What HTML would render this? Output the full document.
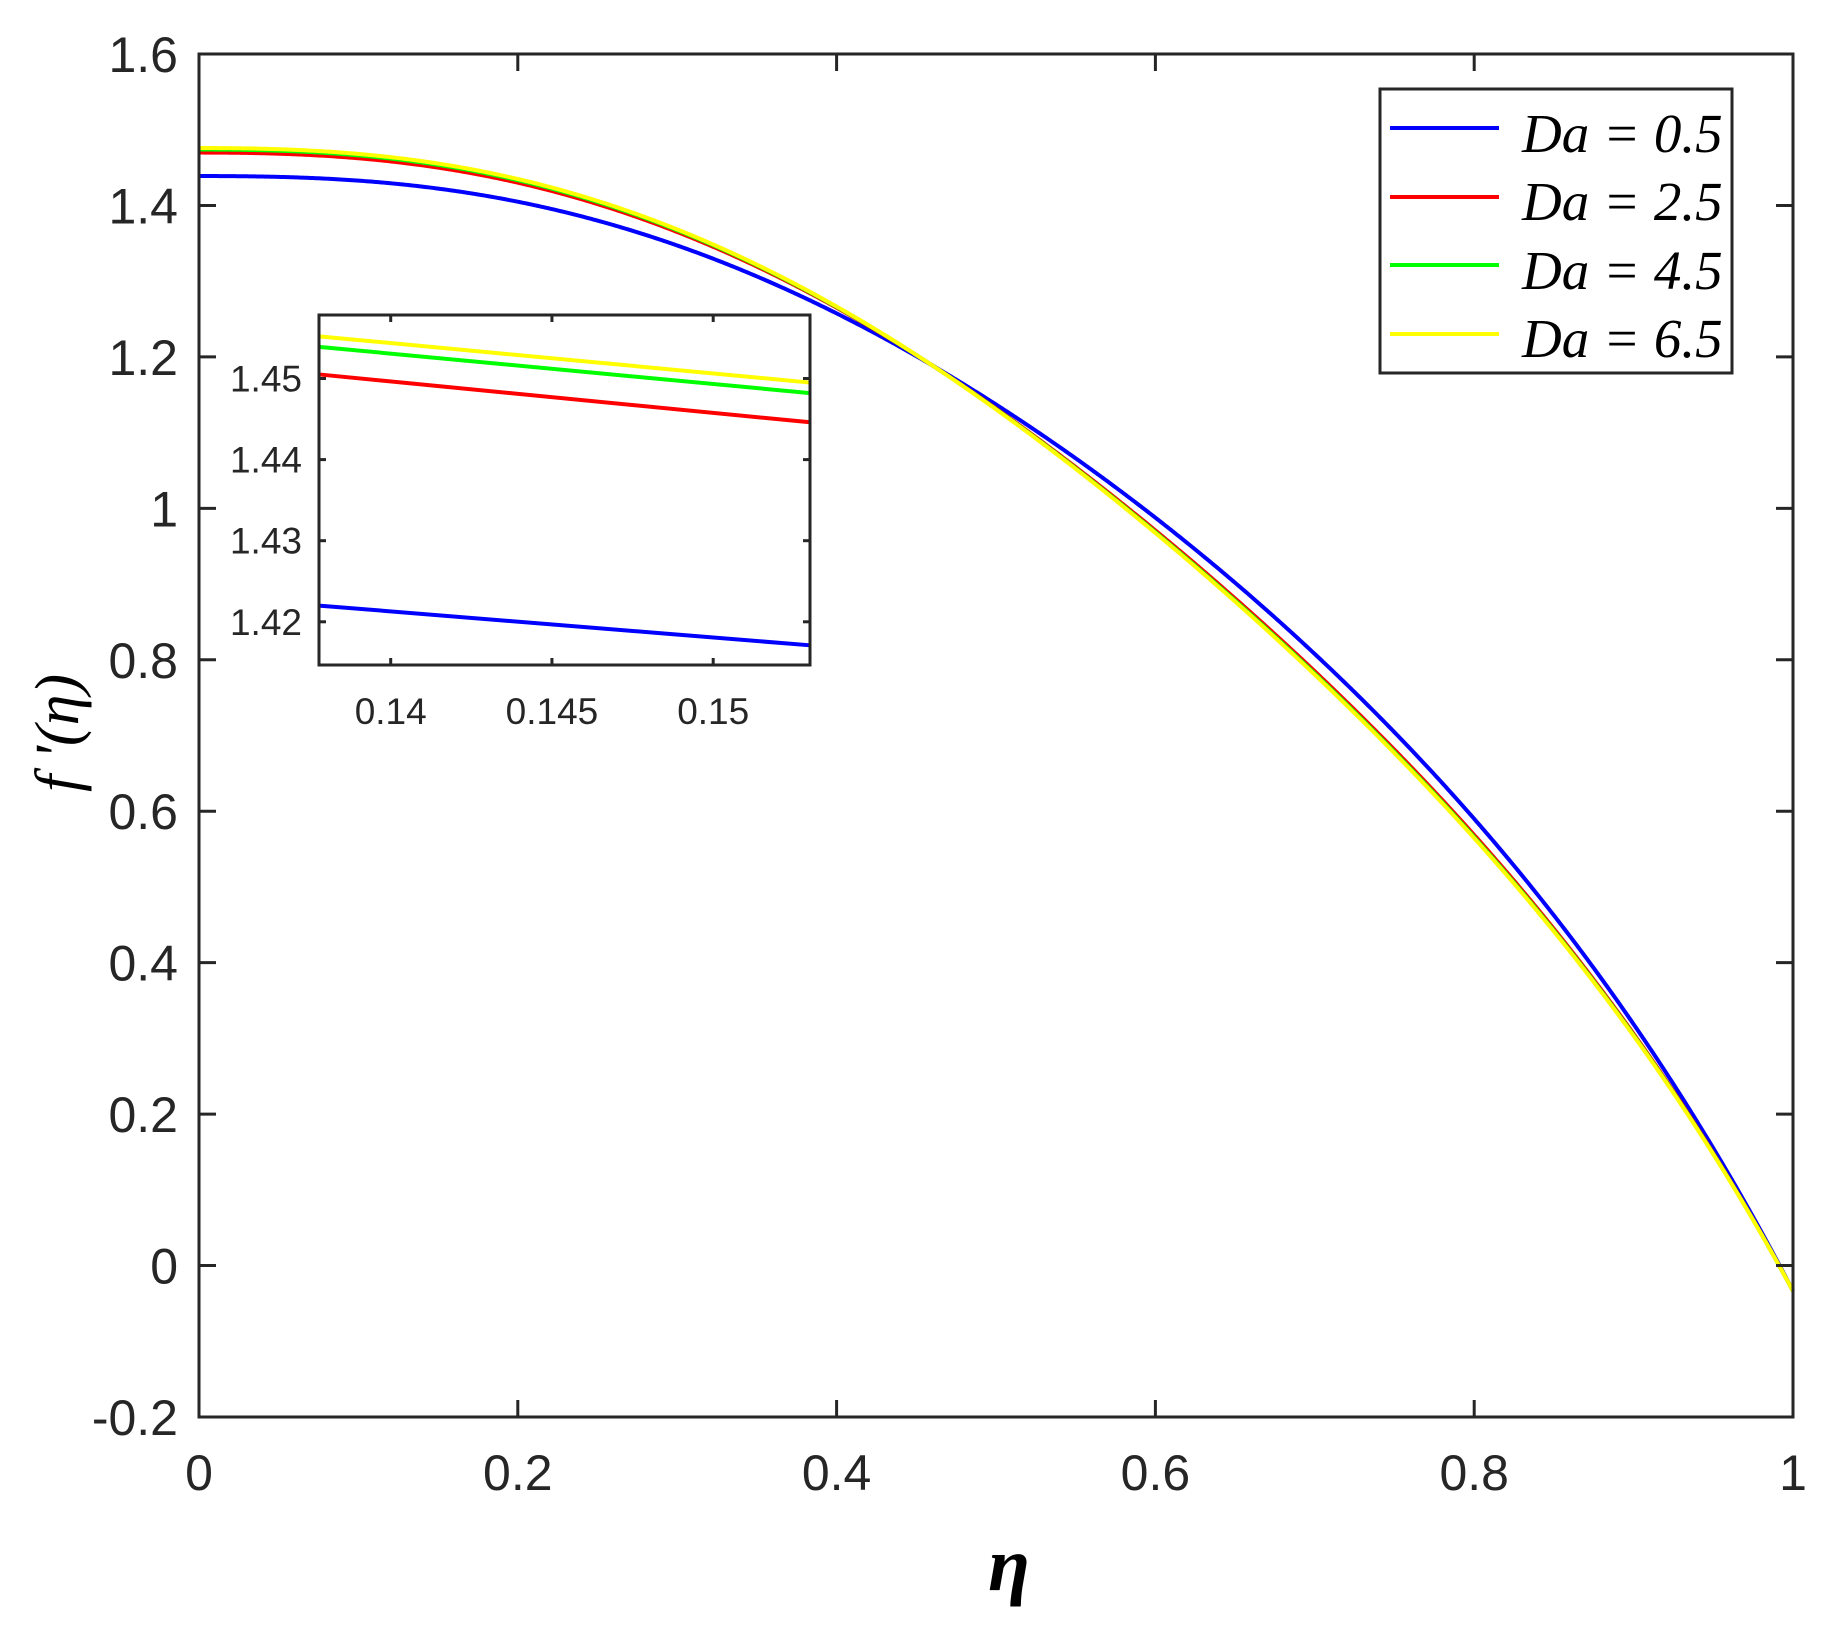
<!DOCTYPE html>
<html><head><meta charset="utf-8">
<style>
html,body{margin:0;padding:0;background:#fff;}
svg{display:block;}
.t{font-family:"Liberation Sans",sans-serif;fill:#262626;}
.s{font-family:"Liberation Serif",serif;font-style:italic;fill:#000;}
</style></head>
<body>
<svg id="c" width="1833" height="1626" viewBox="0 0 1833 1626" xmlns="http://www.w3.org/2000/svg">
<rect width="1833" height="1626" fill="#fff"/>
<g id="curves"></g>
<g id="axes" stroke="#262626" stroke-width="3" fill="none"></g>
<g id="labels"></g>
<rect x="319" y="315" width="491" height="350" fill="#fff"/>
<g id="inset"></g>
<rect x="319" y="315" width="491" height="350" fill="none" stroke="#262626" stroke-width="3"/>
<rect x="1380" y="89" width="352" height="284" fill="#fff" stroke="#262626" stroke-width="3"/>
<g stroke-width="4">
<line x1="1390" y1="128" x2="1499" y2="128" stroke="#0000ff"/>
<line x1="1390" y1="197" x2="1499" y2="197" stroke="#ff0000"/>
<line x1="1390" y1="265" x2="1499" y2="265" stroke="#00ff00"/>
<line x1="1390" y1="334" x2="1499" y2="334" stroke="#ffff00"/>
</g>
<g class="s" font-size="55">
<text x="1522" y="152">Da = 0.5</text>
<text x="1522" y="220">Da = 2.5</text>
<text x="1522" y="289">Da = 4.5</text>
<text x="1522" y="357">Da = 6.5</text>
</g>
<text class="s" font-size="76" font-weight="bold" x="1009" y="1590" text-anchor="middle">η</text>
<text class="s" font-size="62" transform="translate(78,733) rotate(-90)" text-anchor="middle">f '(η)</text>
</svg>
<script>
(function(){
var NS="http://www.w3.org/2000/svg";
var L=199,R=1793,T=54,B=1417;
function X(e){return L+e*(R-L);}
function Y(v){return T+(1.6-v)/1.8*(B-T);}
function el(p,n,a,txt){var e=document.createElementNS(NS,n);for(var k in a)e.setAttribute(k,a[k]);if(txt!=null)e.textContent=txt;p.appendChild(e);return e;}
var px=[0,0.1375,0.1525,0.2,0.3,0.457,0.585,0.7035,0.797,0.873,0.937,0.991,1];
var py=[1.4437,1.4222,1.4171,1.404,1.355,1.198,1.0,0.8,0.6,0.4,0.2,0,-0.033];
var pw=[3,3,3,1,1,2,1,1,1,1,1,1,2];
var pows=[0,2,3,4,5];
var K=pows.length,A=[],bv=[];
for(var i=0;i<K;i++){A.push([]);bv.push(0);for(var j=0;j<K;j++)A[i].push(0);}
for(var p=0;p<px.length;p++){for(i=0;i<K;i++){var fi=Math.pow(px[p],pows[i]);bv[i]+=pw[p]*fi*py[p];for(j=0;j<K;j++)A[i][j]+=pw[p]*fi*Math.pow(px[p],pows[j]);}}
for(i=0;i<K;i++){var piv=i;for(j=i+1;j<K;j++)if(Math.abs(A[j][i])>Math.abs(A[piv][i]))piv=j;
var tA=A[i];A[i]=A[piv];A[piv]=tA;var tb=bv[i];bv[i]=bv[piv];bv[piv]=tb;
for(j=i+1;j<K;j++){var f=A[j][i]/A[i][i];for(var k=i;k<K;k++)A[j][k]-=f*A[i][k];bv[j]-=f*bv[i];}}
var c=new Array(K);for(i=K-1;i>=0;i--){var s=bv[i];for(j=i+1;j<K;j++)s-=A[i][j]*c[j];c[i]=s/A[i][i];}
function blue(x){var s=0;for(var i=0;i<K;i++)s+=c[i]*Math.pow(x,pows[i]);return s;}
function off(x,a){if(x<=0.46)return a*(1-Math.pow(x/0.46,2));return -a*0.75*Math.sin(Math.PI*(x-0.46)/0.54);}
var series=[["#0000ff",0],["#ff0000",0.031],["#00ff00",0.035],["#ffff00",0.037]];
var g=document.getElementById("curves");
series.forEach(function(s){var p="";for(var k=0;k<=800;k++){var x=k/800;var v=blue(x)+off(x,s[1]);p+=(k?"L":"M")+X(x).toFixed(2)+","+Y(v).toFixed(2);}
el(g,"path",{d:p,fill:"none",stroke:s[0],"stroke-width":4});});
var a=document.getElementById("axes");
el(a,"rect",{x:L,y:T,width:R-L,height:B-T});
var lab=document.getElementById("labels");
for(i=0;i<=5;i++){var x=X(i*0.2);el(a,"line",{x1:x,y1:B,x2:x,y2:B-17});el(a,"line",{x1:x,y1:T,x2:x,y2:T+17});
el(lab,"text",{"class":"t",x:x,y:1490,"font-size":50,"text-anchor":"middle"},["0","0.2","0.4","0.6","0.8","1"][i]);}
var yl=["-0.2","0","0.2","0.4","0.6","0.8","1","1.2","1.4","1.6"];
for(i=0;i<10;i++){var v=-0.2+i*0.2,y=Y(v);el(a,"line",{x1:L,y1:y,x2:L+17,y2:y});el(a,"line",{x1:R,y1:y,x2:R-17,y2:y});
el(lab,"text",{"class":"t",x:178,y:y+18,"font-size":50,"text-anchor":"end"},yl[i]);}
var ig=document.getElementById("inset");
var iL=319,iR=810,iT=315,iB=665;
function IX(e){return 390.7+(e-0.14)/0.005*161.25;}
function IY(v){return 378.5+(1.45-v)/0.01*81.1;}
var il=[["#0000ff",1.4220,1.4171],["#ff0000",1.4505,1.4446],["#00ff00",1.4539,1.4482],["#ffff00",1.4552,1.4495]];
il.forEach(function(s){el(ig,"line",{x1:iL,y1:IY(s[1]),x2:iR,y2:IY(s[2]),stroke:s[0],"stroke-width":4});});
[0.14,0.145,0.15].forEach(function(e,j){var x=IX(e);el(ig,"line",{x1:x,y1:iB,x2:x,y2:iB-7,stroke:"#262626","stroke-width":3});el(ig,"line",{x1:x,y1:iT,x2:x,y2:iT+7,stroke:"#262626","stroke-width":3});
el(ig,"text",{"class":"t",x:x,y:724,"font-size":37,"text-anchor":"middle"},["0.14","0.145","0.15"][j]);});
[1.42,1.43,1.44,1.45].forEach(function(v){var y=IY(v);el(ig,"line",{x1:iL,y1:y,x2:iL+7,y2:y,stroke:"#262626","stroke-width":3});el(ig,"line",{x1:iR,y1:y,x2:iR-7,y2:y,stroke:"#262626","stroke-width":3});
el(ig,"text",{"class":"t",x:302,y:y+13,"font-size":37,"text-anchor":"end"},v.toFixed(2));});
})();
</script>
</body></html>
